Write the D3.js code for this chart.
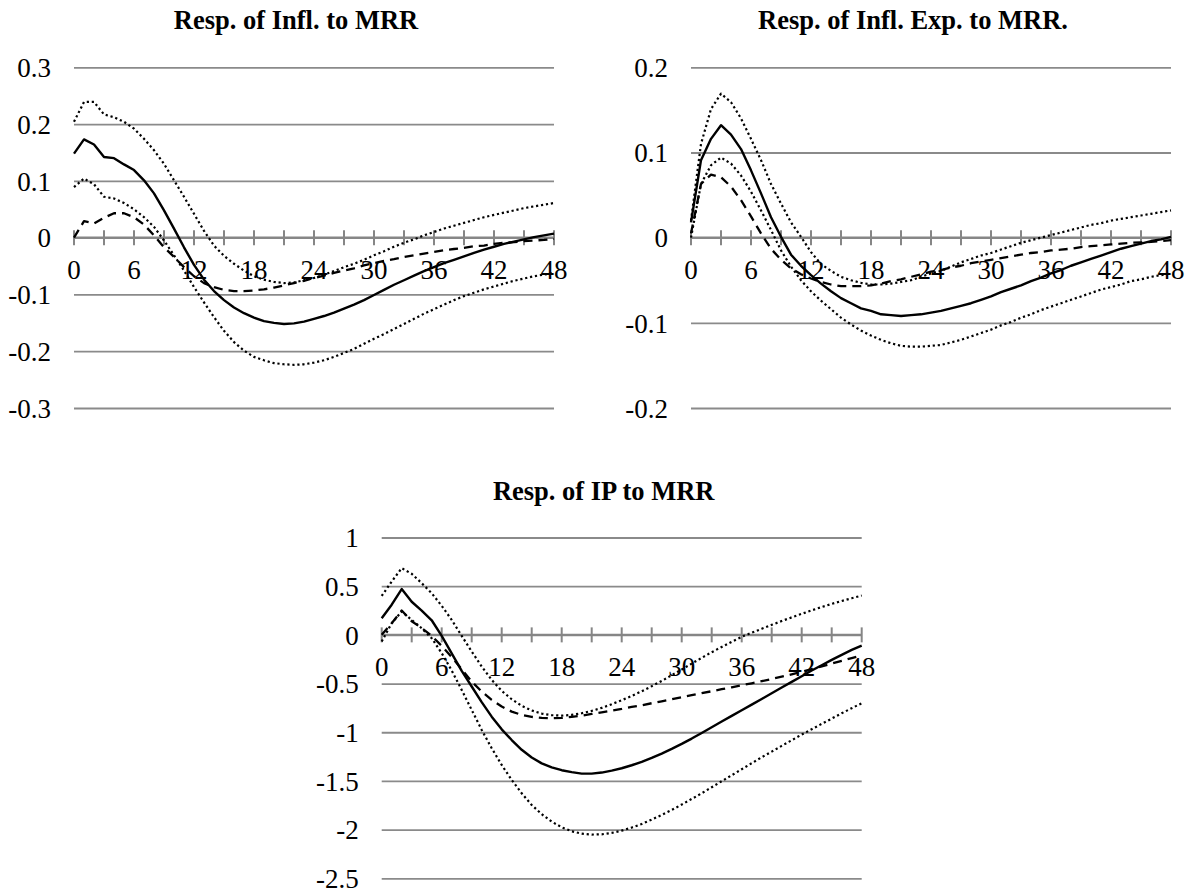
<!DOCTYPE html>
<html>
<head>
<meta charset="utf-8">
<script src="https://cdn.jsdelivr.net/npm/d3@7"></script>
<style>
  body { margin: 0; background: #fff; }
  text { font-family: "Liberation Serif", "Times New Roman", serif; fill: #000; }
</style>
</head>
<body>
<svg id="chart" width="1190" height="890"></svg>
<script>
// horizon (months) and tick labels
var horizon = [0,1,2,3,4,5,6,7,8,9,10,11,12,13,14,15,16,17,18,19,20,21,22,23,24,
               25,26,27,28,29,30,31,32,33,34,35,36,37,38,39,40,41,42,43,44,45,46,47,48];
var xTickLabels = [0, 6, 12, 18, 24, 30, 36, 42, 48];

var inflTicks = [0.3, 0.2, 0.1, 0, -0.1, -0.2, -0.3];
var expTicks  = [0.2, 0.1, 0, -0.1, -0.2];
var ipTicks   = [1, 0.5, 0, -0.5, -1, -1.5, -2, -2.5];

// Resp. of Infl. to MRR
var inflMain  = [0.148,0.173,0.164,0.142,0.140,0.129,0.119,0.101,0.078,0.048,0.016,-0.017,-0.048,-0.074,-0.094,-0.110,-0.123,-0.133,-0.141,-0.147,-0.150,-0.152,-0.151,-0.148,-0.143,
                 -0.138,-0.132,-0.125,-0.118,-0.110,-0.101,-0.092,-0.083,-0.075,-0.067,-0.059,-0.052,-0.045,-0.039,-0.033,-0.027,-0.021,-0.016,-0.011,-0.007,-0.003,0.001,0.004,0.007];
var inflAlt   = [0.000,0.029,0.025,0.035,0.043,0.043,0.036,0.023,0.004,-0.017,-0.034,-0.052,-0.068,-0.080,-0.087,-0.092,-0.094,-0.094,-0.093,-0.091,-0.088,-0.084,-0.080,-0.076,-0.071,
                 -0.067,-0.062,-0.058,-0.054,-0.049,-0.045,-0.041,-0.038,-0.034,-0.031,-0.028,-0.025,-0.022,-0.020,-0.018,-0.015,-0.014,-0.011,-0.009,-0.008,-0.006,-0.005,-0.004,-0.002];
var inflUpper = [0.204,0.239,0.239,0.217,0.212,0.204,0.192,0.174,0.154,0.130,0.101,0.072,0.042,0.012,-0.014,-0.032,-0.046,-0.058,-0.068,-0.074,-0.078,-0.080,-0.079,-0.075,-0.071,
                 -0.065,-0.059,-0.052,-0.046,-0.039,-0.031,-0.024,-0.016,-0.009,-0.003,0.004,0.010,0.016,0.021,0.026,0.031,0.036,0.040,0.044,0.048,0.052,0.055,0.058,0.061];
var inflLower = [0.089,0.104,0.094,0.072,0.069,0.061,0.050,0.036,0.019,-0.005,-0.031,-0.058,-0.087,-0.114,-0.140,-0.164,-0.184,-0.199,-0.210,-0.216,-0.221,-0.223,-0.224,-0.223,-0.220,
                 -0.216,-0.210,-0.203,-0.196,-0.187,-0.178,-0.170,-0.161,-0.152,-0.143,-0.134,-0.126,-0.118,-0.110,-0.103,-0.097,-0.091,-0.086,-0.081,-0.076,-0.072,-0.068,-0.065,-0.062];

// Resp. of Infl. Exp. to MRR.
var expMain  = [0.018,0.091,0.116,0.132,0.121,0.104,0.079,0.052,0.024,0.001,-0.020,-0.033,-0.044,-0.054,-0.063,-0.071,-0.077,-0.083,-0.086,-0.090,-0.091,-0.092,-0.091,-0.090,-0.088,
                -0.086,-0.083,-0.080,-0.077,-0.073,-0.069,-0.064,-0.060,-0.056,-0.051,-0.047,-0.042,-0.038,-0.033,-0.029,-0.025,-0.021,-0.017,-0.013,-0.010,-0.007,-0.004,-0.002,0.001];
var expAlt   = [0.005,0.063,0.074,0.071,0.060,0.044,0.025,0.005,-0.013,-0.026,-0.036,-0.043,-0.048,-0.052,-0.055,-0.057,-0.057,-0.057,-0.056,-0.054,-0.051,-0.049,-0.046,-0.043,-0.040,
                -0.038,-0.035,-0.033,-0.030,-0.028,-0.026,-0.024,-0.022,-0.020,-0.018,-0.017,-0.015,-0.014,-0.013,-0.011,-0.010,-0.009,-0.008,-0.007,-0.006,-0.0055,-0.005,-0.004,-0.003];
var expUpper = [0.020,0.110,0.151,0.169,0.159,0.140,0.116,0.091,0.063,0.040,0.018,0.001,-0.017,-0.031,-0.039,-0.046,-0.050,-0.053,-0.055,-0.055,-0.054,-0.052,-0.050,-0.046,-0.042,
                -0.039,-0.034,-0.029,-0.025,-0.021,-0.018,-0.014,-0.010,-0.006,-0.003,0.000,0.003,0.006,0.009,0.012,0.015,0.017,0.020,0.022,0.024,0.026,0.028,0.030,0.032];
var expLower = [0.000,0.063,0.085,0.094,0.087,0.073,0.054,0.032,0.009,-0.015,-0.034,-0.050,-0.063,-0.074,-0.084,-0.094,-0.102,-0.109,-0.115,-0.120,-0.124,-0.127,-0.128,-0.128,-0.127,
                -0.126,-0.123,-0.120,-0.116,-0.112,-0.108,-0.103,-0.099,-0.094,-0.090,-0.085,-0.081,-0.077,-0.073,-0.069,-0.065,-0.061,-0.058,-0.055,-0.051,-0.049,-0.046,-0.044,-0.042];

// Resp. of IP to MRR
var ipMain  = [0.17,0.31,0.47,0.34,0.25,0.15,-0.01,-0.19,-0.37,-0.53,-0.69,-0.84,-0.97,-1.08,-1.18,-1.26,-1.32,-1.36,-1.39,-1.41,-1.425,-1.425,-1.414,-1.394,-1.37,
               -1.339,-1.305,-1.264,-1.219,-1.171,-1.12,-1.065,-1.007,-0.949,-0.89,-0.832,-0.774,-0.716,-0.658,-0.599,-0.541,-0.483,-0.425,-0.366,-0.312,-0.257,-0.205,-0.154,-0.11];
var ipAlt   = [0.0,0.12,0.25,0.14,0.07,-0.01,-0.113,-0.229,-0.353,-0.479,-0.582,-0.668,-0.736,-0.788,-0.822,-0.842,-0.853,-0.856,-0.853,-0.842,-0.829,-0.812,-0.795,-0.777,-0.760,
               -0.740,-0.723,-0.702,-0.682,-0.661,-0.640,-0.620,-0.599,-0.579,-0.558,-0.538,-0.517,-0.497,-0.476,-0.453,-0.43,-0.405,-0.38,-0.352,-0.323,-0.295,-0.266,-0.238,-0.21];
var ipUpper = [0.40,0.548,0.685,0.627,0.531,0.428,0.298,0.154,-0.010,-0.171,-0.325,-0.462,-0.575,-0.661,-0.729,-0.777,-0.808,-0.825,-0.829,-0.822,-0.805,-0.781,-0.750,-0.712,-0.671,
               -0.627,-0.579,-0.527,-0.473,-0.414,-0.356,-0.295,-0.236,-0.178,-0.124,-0.071,-0.02,0.022,0.062,0.103,0.142,0.18,0.216,0.252,0.286,0.318,0.348,0.376,0.404];
var ipLower = [-0.068,0.12,0.24,0.154,0.068,-0.034,-0.188,-0.366,-0.565,-0.771,-0.976,-1.164,-1.336,-1.490,-1.627,-1.747,-1.842,-1.918,-1.976,-2.017,-2.041,-2.051,-2.048,-2.034,-2.010,
               -1.979,-1.942,-1.897,-1.849,-1.798,-1.743,-1.685,-1.627,-1.565,-1.503,-1.442,-1.380,-1.318,-1.257,-1.199,-1.140,-1.082,-1.024,-0.969,-0.914,-0.860,-0.805,-0.753,-0.702];


var svg = d3.select("#chart");

var panels = [
    {title: "Resp. of Infl. to MRR", ticks: inflTicks, left: 74, top: 67.3, bottom: 408,
     series: [inflUpper, inflLower, inflAlt, inflMain]},
    {title: "Resp. of Infl. Exp. to MRR.", ticks: expTicks, left: 691, top: 67.3, bottom: 408,
     series: [expUpper, expLower, expAlt, expMain]},
    {title: "Resp. of IP to MRR", ticks: ipTicks, left: 381.7, top: 537.5, bottom: 878.3,
     series: [ipUpper, ipLower, ipAlt, ipMain]}
];

var plotWidth = 480;
var styles = [
    {dash: "2.2,2.8", width: 2.2},
    {dash: "2.2,2.8", width: 2.2},
    {dash: "9,6", width: 2.3},
    {dash: null, width: 2.4}
];


/*
 *** Draw one impulse response panel
 */
function drawPanel(p){
    var g = svg.append("g");

    var x = d3.scaleLinear()
        .domain([0, 48])
        .range([p.left, p.left + plotWidth]);

    var y = d3.scaleLinear()
        .domain([d3.min(p.ticks), d3.max(p.ticks)])
        .range([p.bottom, p.top]);

    // gridlines + labels
    var yAxis = d3.axisLeft(y)
        .tickValues(p.ticks)
        .tickSize(-plotWidth)
        .tickPadding(23)
        .tickFormat(function(d){ return String(d); });

    g.append("g")
        .attr("transform", "translate(" + p.left + ",0)")
        .call(yAxis)
        .call(function(a){
            a.select(".domain").remove();
            a.selectAll(".tick line").attr("stroke", "#8a8a8a").attr("stroke-width", 1.8);
            a.selectAll(".tick text")
                .attr("font-size", "27px")
                .attr("x", -23)
                .attr("dy", "0.34em");
        });

    // horizontal axis at zero, with crossing tick marks every 3 months
    var zeroY = y(0);
    g.append("line")
        .attr("x1", x(0)).attr("x2", x(48))
        .attr("y1", zeroY).attr("y2", zeroY)
        .attr("stroke", "#868686")
        .attr("stroke-width", 2.4);

    g.selectAll(".xtick")
        .data(horizon.filter(function(h){ return h % 3 === 0; }))
        .enter().append("line")
        .attr("class", "xtick")
        .attr("x1", function(d){ return x(d); })
        .attr("x2", function(d){ return x(d); })
        .attr("y1", zeroY - 7.5)
        .attr("y2", zeroY + 7.5)
        .attr("stroke", "#868686")
        .attr("stroke-width", 2);

    g.selectAll(".xlabel")
        .data(xTickLabels)
        .enter().append("text")
        .attr("class", "xlabel")
        .attr("x", function(d){ return x(d); })
        .attr("y", zeroY + 41)
        .attr("text-anchor", "middle")
        .attr("font-size", "27px")
        .text(function(d){ return d; });

    // title
    g.append("text")
        .attr("x", p.left + plotWidth / 2 - 18)
        .attr("y", p.top - 38)
        .attr("text-anchor", "middle")
        .attr("font-size", "26.5px")
        .attr("font-weight", "bold")
        .text(p.title);

    var line = d3.line()
        .x(function(d, i){ return x(horizon[i]); })
        .y(function(d){ return y(d); });

    p.series.forEach(function(s, i){
        g.append("path")
            .datum(s)
            .attr("d", line)
            .attr("fill", "none")
            .attr("stroke", "#000")
            .attr("stroke-width", styles[i].width)
            .attr("stroke-dasharray", styles[i].dash)
            .attr("stroke-linejoin", "round");
    });
}

panels.forEach(drawPanel);
</script>
</body>
</html>
